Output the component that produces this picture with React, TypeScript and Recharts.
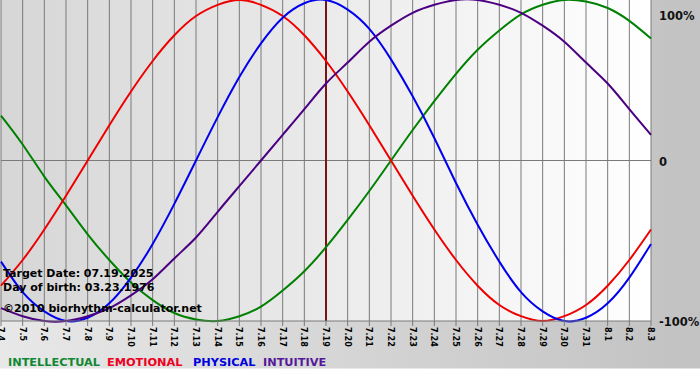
import React from "react";
import {
  LineChart,
  Line,
  XAxis,
  YAxis,
  CartesianGrid,
  ReferenceLine,
} from "recharts";

const dates = [
  "7.4", "7.5", "7.6", "7.7", "7.8", "7.9", "7.10", "7.11", "7.12", "7.13",
  "7.14", "7.15", "7.16", "7.17", "7.18", "7.19", "7.20", "7.21", "7.22", "7.23",
  "7.24", "7.25", "7.26", "7.27", "7.28", "7.29", "7.30", "7.31", "8.1", "8.2", "8.3",
];

const intellectual = [
  0.28, 0.1, -0.1, -0.28, -0.46, -0.62, -0.76, -0.87, -0.95, -0.99, -1.0,
  -0.97, -0.91, -0.81, -0.69, -0.54, -0.37, -0.19, 0.0, 0.19, 0.37, 0.54,
  0.69, 0.81, 0.91, 0.97, 1.0, 0.99, 0.95, 0.87, 0.76,
];

const emotional = [
  -0.78, -0.62, -0.43, -0.22, 0.0, 0.22, 0.43, 0.62, 0.78, 0.9, 0.97, 1.0,
  0.97, 0.9, 0.78, 0.62, 0.43, 0.22, 0.0, -0.22, -0.43, -0.62, -0.78, -0.9,
  -0.97, -1.0, -0.97, -0.9, -0.78, -0.62, -0.43,
];

const physical = [
  -0.63, -0.82, -0.94, -1.0, -0.98, -0.89, -0.73, -0.52, -0.27, 0.0, 0.27,
  0.52, 0.73, 0.89, 0.98, 1.0, 0.94, 0.82, 0.63, 0.4, 0.14, -0.14, -0.4,
  -0.63, -0.82, -0.94, -1.0, -0.98, -0.89, -0.73, -0.52,
];

const intuitive = [
  -0.92, -0.97, -1.0, -1.0, -0.97, -0.92, -0.84, -0.74, -0.61, -0.48, -0.32,
  -0.16, 0.0, 0.16, 0.32, 0.48, 0.61, 0.74, 0.84, 0.92, 0.97, 1.0, 1.0, 0.97,
  0.92, 0.84, 0.74, 0.61, 0.48, 0.32, 0.16,
];

const yTicks = [-1, 0, 1];
const yTickLabels: Record<string, string> = { "-1": "-100%", "0": "0", "1": "100%" };
const targetDate = "7.19";

const legendItems = [
  { label: "INTELLECTUAL", color: "#118833", x: 8 },
  { label: "EMOTIONAL", color: "#ee0022", x: 107 },
  { label: "PHYSICAL", color: "#0000dd", x: 193 },
  { label: "INTUITIVE", color: "#551a99", x: 263 },
];

const data = dates.map((d, i) => ({
  date: d,
  intellectual: intellectual[i],
  emotional: emotional[i],
  physical: physical[i],
  intuitive: intuitive[i],
}));

const FONT = "'DejaVu Sans', Verdana, sans-serif";

const XTick = (props: any) => {
  const { x, y, payload } = props;
  return (
    <text
      transform={`translate(${x - 0.5},${y}) rotate(90)`}
      textAnchor="start"
      dominantBaseline="central"
      fontSize={8}
      fontWeight="bold"
      fontFamily={FONT}
      fill="#000"
    >
      {payload.value}
    </text>
  );
};

const YTick = (props: any) => {
  const { x, y, payload } = props;
  const v = payload.value;
  const dy = v === 1 ? 7 : 1;
  return (
    <text
      x={x}
      y={y + dy}
      textAnchor="start"
      dominantBaseline="central"
      fontSize={11.5}
      fontWeight="bold"
      fontFamily={FONT}
      fill="#111"
    >
      {yTickLabels[String(v)]}
    </text>
  );
};

export default function App() {
  return (
    <div
      style={{
        position: "absolute",
        left: 0,
        top: 0,
        width: 700,
        height: 380,
        overflow: "hidden",
        background:
          "linear-gradient(to bottom, rgba(255,255,255,0) 0px, rgba(255,255,255,0) 368px, #ffffff 369px), linear-gradient(to right, #e8e8e8, #c2c2c2)",
      }}
    >
      <LineChart
        width={700}
        height={380}
        data={data}
        margin={{ top: 0, right: 0, left: 1, bottom: 0 }}
      >
        <defs>
          <linearGradient id="plotBg" x1="0" y1="0" x2="1" y2="0">
            <stop offset="0%" stopColor="#d6d6d6" />
            <stop offset="100%" stopColor="#ffffff" />
          </linearGradient>
        </defs>
        <CartesianGrid
          horizontal={false}
          vertical={true}
          stroke="#7a7a7a"
          fill="url(#plotBg)"
          fillOpacity={1}
        />
        <XAxis
          dataKey="date"
          height={59}
          interval={0}
          tickSize={5}
          tickMargin={1}
          stroke="#7a7a7a"
          tick={<XTick />}
        />
        <YAxis
          orientation="right"
          width={49}
          domain={[-1, 1]}
          ticks={yTicks}
          axisLine={false}
          tickLine={false}
          tickSize={6}
          tickMargin={2}
          tick={<YTick />}
        />
        <ReferenceLine y={0} stroke="#7a7a7a" strokeWidth={1} />
        <ReferenceLine x={targetDate} stroke="#7a1414" strokeWidth={2} />
        <Line type="natural" dataKey="intellectual" stroke="#008000" strokeWidth={2} dot={false} isAnimationActive={false} />
        <Line type="natural" dataKey="emotional" stroke="#ee0000" strokeWidth={2} dot={false} isAnimationActive={false} />
        <Line type="natural" dataKey="physical" stroke="#0000ee" strokeWidth={2} dot={false} isAnimationActive={false} />
        <Line type="natural" dataKey="intuitive" stroke="#4b0082" strokeWidth={2} dot={false} isAnimationActive={false} />
      </LineChart>
      <svg
        width={700}
        height={380}
        style={{ position: "absolute", left: 0, top: 0, pointerEvents: "none" }}
      >
        <g fontFamily={FONT} fontWeight="bold" fontSize={11} fill="#000">
          <text x={3} y={277}>Target Date: 07.19.2025</text>
          <text x={3} y={291}>Day of birth: 03.23.1976</text>
          <text x={3} y={312}>©2010 biorhythm-calculator.net</text>
        </g>
        <g fontFamily={FONT} fontWeight="bold" fontSize={11.3}>
          {legendItems.map((it) => (
            <text key={it.label} x={it.x} y={366} fill={it.color}>
              {it.label}
            </text>
          ))}
        </g>
      </svg>
    </div>
  );
}
